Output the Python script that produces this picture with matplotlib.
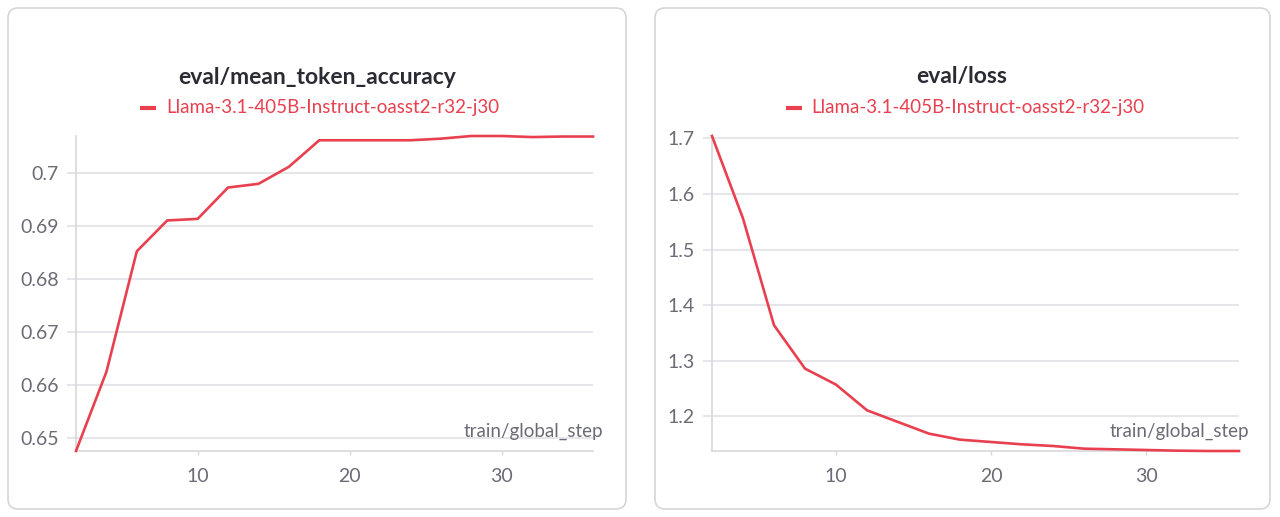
import matplotlib
matplotlib.use("Agg")
import matplotlib.pyplot as plt
from matplotlib.patches import FancyBboxPatch
from matplotlib.transforms import IdentityTransform

plt.rcParams['font.family'] = ['Lato', 'DejaVu Sans']

steps = [2, 4, 6, 8, 10, 12, 14, 16, 18, 20, 22, 24, 26, 28, 30, 32, 34, 36]
accuracy = [0.6476, 0.6625, 0.6852, 0.6910, 0.6913, 0.6972, 0.6979, 0.7011, 0.7061,
            0.7061, 0.7061, 0.7061, 0.7064, 0.7069, 0.7069, 0.7067, 0.7068, 0.7068]
loss = [1.7042, 1.5559, 1.3639, 1.2858, 1.2570, 1.2108, 1.1898, 1.1688, 1.1580,
        1.1538, 1.1496, 1.1466, 1.1418, 1.1406, 1.1394, 1.1382, 1.1376, 1.1376]
acc_yticks = [0.65, 0.66, 0.67, 0.68, 0.69, 0.70]
acc_yticklabels = ["0.65", "0.66", "0.67", "0.68", "0.69", "0.7"]
loss_yticks = [1.2, 1.3, 1.4, 1.5, 1.6, 1.7]
xticks = [10, 20, 30]
run_name = "Llama-3.1-405B-Instruct-oasst2-r32-j30"
titles = ["eval/mean_token_accuracy", "eval/loss"]
xlabel = "train/global_step"

W, H = 1280, 517
fig = plt.figure(figsize=(W / 100, H / 100), dpi=100)
fig.patch.set_facecolor("white")

RED = "#e8404f"
GRID = "#e2e2e6"
TICKC = "#6b6b76"

# cards (pixel coords, origin bottom-left)
for x0, x1 in [(8, 626), (655, 1270)]:
    p = FancyBboxPatch((x0, 8), x1 - x0, 501, boxstyle="round,pad=0,rounding_size=10",
                       transform=IdentityTransform(), facecolor="white",
                       edgecolor="#d6d6da", linewidth=1.2, zorder=-10)
    fig.patches.append(p)

def px_axes(x0, x1, ytop, ybot):
    return fig.add_axes([x0 / W, (H - ybot) / H, (x1 - x0) / W, (ybot - ytop) / H])

panels = [
    dict(ax=px_axes(76, 593, 136, 451), y=accuracy, yt=acc_yticks, ytl=acc_yticklabels,
         title=titles[0], cx=317),
    dict(ax=px_axes(712, 1239, 136, 451), y=loss, yt=loss_yticks,
         ytl=[f"{v:.1f}" for v in loss_yticks], title=titles[1], cx=962),
]

for pnl in panels:
    ax = pnl["ax"]
    ax.set_zorder(5)
    ax.set_facecolor("none")
    ax.plot(steps, pnl["y"], color=RED, lw=1.9, solid_joinstyle="miter", clip_on=False, zorder=3)
    ax.set_xlim(min(steps), max(steps))
    ax.set_ylim(min(pnl["y"]), max(pnl["y"]))
    ax.set_yticks(pnl["yt"])
    ax.set_yticklabels(pnl["ytl"])
    ax.set_xticks(xticks)
    ax.grid(axis="y", color=GRID, lw=1.2)
    ax.set_axisbelow(True)
    for s in ["top", "right"]:
        ax.spines[s].set_visible(False)
    for s in ["left", "bottom"]:
        ax.spines[s].set_color("#d8d8dc")
        ax.spines[s].set_linewidth(1.2)
    ax.tick_params(axis="y", length=6.5, color=GRID, width=1.2, labelsize=14,
                   labelcolor=TICKC, pad=6)
    ax.tick_params(axis="x", length=3, color="#d8d8dc", width=1, labelsize=14,
                   labelcolor=TICKC, pad=9)
    ax.text(1.02, 0.035, xlabel, transform=ax.transAxes, ha="right", va="bottom",
            fontsize=13.5, color=TICKC)
    fig.text(pnl["cx"] / W, (H - 77) / H, pnl["title"], ha="center", va="center",
             fontsize=16.5, fontweight="bold", color="#2b2b33")
    fig.text(pnl["cx"] / W + 0.0125, (H - 108) / H, run_name, ha="center", va="center",
             fontsize=13.5, color=RED)

# legend line markers
for lx in [140, 786]:
    fig.add_artist(plt.Line2D([lx / W, (lx + 16) / W], [(H - 108) / H] * 2,
                              color=RED, lw=3, solid_capstyle="butt"))

fig.savefig("out.png", dpi=100, facecolor="white")
